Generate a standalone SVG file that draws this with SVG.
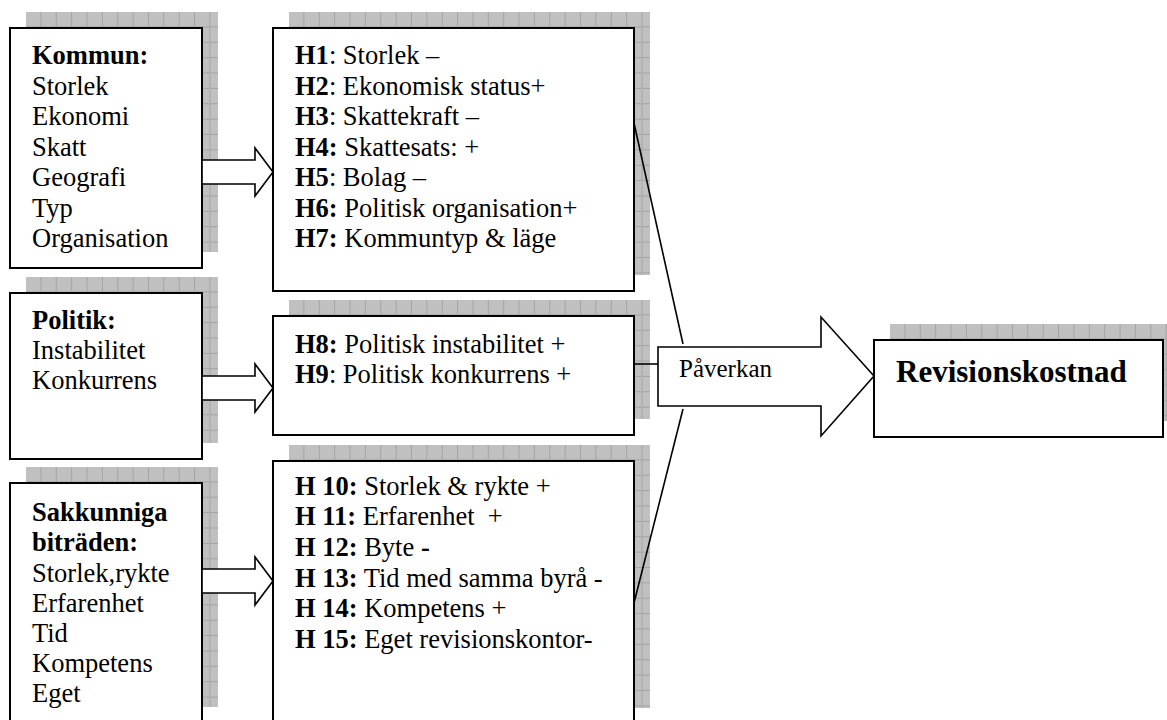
<svg xmlns="http://www.w3.org/2000/svg" width="1167" height="720" viewBox="0 0 1167 720">
<style>
.box{fill:#ffffff;stroke:#000000;stroke-width:2}
.shadow{fill:url(#grid)}
.t{font-family:"Liberation Serif","Times New Roman",serif;font-size:26.5px;fill:#000000;white-space:pre}
.b{font-weight:bold}
.arrow{fill:#ffffff;stroke:#000000;stroke-width:1.6;stroke-linejoin:miter}
.line{stroke:#000000;stroke-width:1.6;fill:none}
</style>
<defs>
<pattern id="grid" patternUnits="userSpaceOnUse" x="0" y="0" width="15.37" height="15.37">
<rect width="15.37" height="15.37" fill="#c0c0c0"/>
<path d="M14.9 0V15.37M0 14.9H15.37" stroke="#a4a4a4" stroke-width="1" fill="none"/>
</pattern>
</defs>

<g id="node-kommun">
<g transform="translate(26,12)"><rect class="shadow" x="0" y="0" width="192" height="240"/></g>
<rect class="box" x="10" y="28" width="192" height="240"/>
<text class="t" x="32" y="64"><tspan class="b">Kommun:</tspan></text>
<text class="t" x="32" y="94.5">Storlek</text>
<text class="t" x="32" y="125">Ekonomi</text>
<text class="t" x="32" y="155.5">Skatt</text>
<text class="t" x="32" y="186">Geografi</text>
<text class="t" x="32" y="216.5">Typ</text>
<text class="t" x="32" y="247">Organisation</text>
</g>

<g id="node-h1-h7">
<g transform="translate(289,12)"><rect class="shadow" x="0" y="0" width="361" height="263"/></g>
<rect class="box" x="273" y="28" width="361" height="263"/>
<text class="t" x="295" y="64"><tspan class="b">H1</tspan>: Storlek –</text>
<text class="t" x="295" y="94.5"><tspan class="b">H2</tspan>: Ekonomisk status+</text>
<text class="t" x="295" y="125"><tspan class="b">H3</tspan>: Skattekraft –</text>
<text class="t" x="295" y="155.5"><tspan class="b">H4:</tspan> Skattesats: +</text>
<text class="t" x="295" y="186"><tspan class="b">H5</tspan>: Bolag –</text>
<text class="t" x="295" y="216.5"><tspan class="b">H6:</tspan> Politisk organisation+</text>
<text class="t" x="295" y="247"><tspan class="b">H7:</tspan> Kommuntyp &amp; läge</text>
</g>

<g id="node-politik">
<g transform="translate(26,277)"><rect class="shadow" x="0" y="0" width="192" height="166"/></g>
<rect class="box" x="10" y="293" width="192" height="166"/>
<text class="t" x="32" y="329"><tspan class="b">Politik:</tspan></text>
<text class="t" x="32" y="359">Instabilitet</text>
<text class="t" x="32" y="389">Konkurrens</text>
</g>

<g id="node-h8-h9">
<g transform="translate(289,300)"><rect class="shadow" x="0" y="0" width="361" height="119"/></g>
<rect class="box" x="273" y="316" width="361" height="119"/>
<text class="t" x="295" y="353"><tspan class="b">H8:</tspan> Politisk instabilitet +</text>
<text class="t" x="295" y="383"><tspan class="b">H9</tspan>: Politisk konkurrens +</text>
</g>

<g id="node-sakkunniga">
<g transform="translate(26,467)"><rect class="shadow" x="0" y="0" width="192" height="240"/></g>
<rect class="box" x="10" y="483" width="192" height="250"/>
<text class="t" x="32" y="521"><tspan class="b">Sakkunniga</tspan></text>
<text class="t" x="32" y="551"><tspan class="b">biträden:</tspan></text>
<text class="t" x="32" y="582">Storlek,rykte</text>
<text class="t" x="32" y="612">Erfarenhet</text>
<text class="t" x="32" y="642">Tid</text>
<text class="t" x="32" y="672">Kompetens</text>
<text class="t" x="32" y="702">Eget</text>
</g>

<g id="node-h10-h15">
<g transform="translate(289,445)"><rect class="shadow" x="0" y="0" width="361" height="263"/></g>
<rect class="box" x="273" y="461" width="361" height="270"/>
<text class="t" x="295" y="495"><tspan class="b">H 10:</tspan> Storlek &amp; rykte +</text>
<text class="t" x="295" y="525"><tspan class="b">H 11:</tspan> Erfarenhet  +</text>
<text class="t" x="295" y="556"><tspan class="b">H 12:</tspan> Byte <tspan class="b">-</tspan></text>
<text class="t" x="295" y="587"><tspan class="b">H 13:</tspan> Tid med samma byrå -</text>
<text class="t" x="295" y="617"><tspan class="b">H 14:</tspan> Kompetens +</text>
<text class="t" x="295" y="648"><tspan class="b">H 15:</tspan> Eget revisionskontor-</text>
</g>

<g id="node-revisionskostnad">
<g transform="translate(890,324)"><rect class="shadow" x="0" y="0" width="289" height="97"/></g>
<rect class="box" x="874" y="340" width="289" height="97"/>
<text class="t b" x="896" y="382" style="font-size:31px">Revisionskostnad</text>
</g>

<g id="connectors">
<polygon class="arrow" points="202,160 255,160 255,148 273,172 255,196 255,184 202,184"/>
<polygon class="arrow" points="202,376 255,376 255,364 273,388 255,412 255,400 202,400"/>
<polygon class="arrow" points="202,569 255,569 255,557 273,581 255,605 255,593 202,593"/>
<line class="line" x1="634" y1="123" x2="683" y2="344"/>
<line class="line" x1="634" y1="603" x2="683" y2="409"/>
<line class="line" x1="634" y1="364" x2="658" y2="364"/>
<polygon class="arrow" points="658,347 821,347 821,317 874,376 821,436 821,406 658,406"/>
<text class="t" x="679" y="377" style="font-size:25px">Påverkan</text>
</g>
</svg>
